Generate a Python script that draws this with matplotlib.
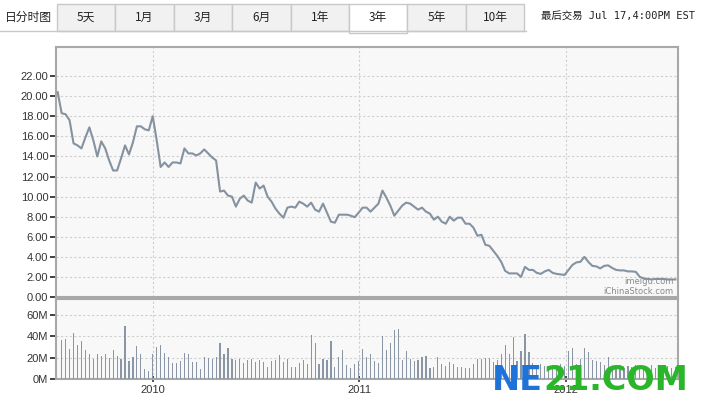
import matplotlib
matplotlib.use("Agg")
import matplotlib.pyplot as plt
import matplotlib.dates as mdates
from matplotlib.patches import Rectangle
import numpy as np
import datetime as dt

# ---------------- data ----------------
price_start = "2009-07-17"
volume_start = "2009-07-24"
prices = [
    20.4, 18.3, 18.2, 17.6, 15.3, 15.1, 14.8, 15.9, 16.9, 15.6,
    14.0, 15.5, 14.8, 13.6, 12.6, 12.6, 13.8, 15.1, 14.2, 15.4,
    17.0, 17.0, 16.7, 16.6, 18.0, 15.6, 12.95, 13.4, 12.95, 13.4,
    13.4, 13.3, 14.8, 14.3, 14.3, 14.1, 14.3, 14.7, 14.3, 13.9,
    13.6, 10.5, 10.6, 10.1, 10.0, 9.0, 9.8, 10.1, 9.6, 9.4,
    11.4, 10.8, 11.1, 10.0, 9.5, 8.8, 8.3, 7.9, 8.9, 9.0,
    8.9, 9.5, 9.3, 9.0, 9.4, 8.7, 8.5, 9.3, 8.4, 7.5,
    7.4, 8.2, 8.2, 8.2, 8.1, 7.95, 8.4, 8.9, 8.9,
    8.5, 8.9, 9.3, 10.6, 9.9, 9.1, 8.1, 8.6, 9.1, 9.4,
    9.3, 9.0, 8.7, 8.9, 8.5, 8.3, 7.7, 8.0, 7.5, 7.3,
    8.0, 7.6, 7.9, 7.9, 7.3, 7.3, 6.9, 6.1, 6.2, 5.2,
    5.1, 4.6, 4.1, 3.5, 2.6, 2.35, 2.35, 2.35,
    2.0, 3.0, 2.7, 2.7, 2.4, 2.3, 2.55, 2.7, 2.4, 2.3,
    2.25, 2.2, 2.7, 3.2, 3.45, 3.5, 4.0, 3.5, 3.1, 3.05,
    2.85, 3.1, 3.15, 2.9, 2.7, 2.65, 2.65, 2.55, 2.55, 2.5,
    2.0, 1.85, 1.8, 1.75, 1.8, 1.8, 1.8, 1.75, 1.75, 1.75,
]
volumes_m = [
    36.9, 37.8, 28.5, 43.4, 31.6, 35.7, 27.0, 23.3, 19.2, 23.9,
    21.4, 23.9, 19.8, 27.6, 21.4, 19.2, 49.3, 16.7, 20.2, 31.0,
    23.3, 9.6, 7.4, 23.3, 30.1, 32.2, 24.5, 20.2, 14.6, 14.6,
    17.1, 24.8, 23.3, 16.4, 16.4, 9.6, 20.2, 19.5, 18.9, 20.2,
    33.8, 23.3, 29.5, 18.3, 17.7, 18.3, 14.6, 17.7, 19.2, 15.5,
    17.7,
    16.1, 11.5, 16.7, 17.7, 22.3, 15.5, 18.6, 11.5, 11.5, 14.6,
    17.7, 13.6, 40.9, 34.1, 13.6, 18.6, 17.7, 35.3, 11.5, 20.5,
    27.0, 12.7, 10.5, 14.3, 16.7, 27.9, 20.5, 23.6, 16.7, 14.6,
    40.0, 27.0, 33.8, 45.6, 46.5, 17.7, 26.0, 19.2, 17.1, 17.4,
    20.5, 21.1, 10.5, 11.5, 20.2, 13.6, 11.8, 15.8, 13.6, 11.5,
    11.5, 10.5,
    10.6, 14.0, 18.7, 18.7, 20.0, 20.0, 16.0, 18.0, 23.0, 31.6,
    23.0, 39.4, 16.9, 26.0, 41.9, 25.0, 15.0, 12.0, 14.0, 12.0,
    11.0, 13.0, 12.0, 14.0, 12.0, 26.0, 28.8, 14.0, 19.0, 28.8,
    25.0, 17.8, 16.9, 15.5, 13.0, 20.3, 12.0, 11.0, 13.0, 10.0,
    12.0, 11.0, 13.0, 10.0, 12.0, 11.0, 13.0, 10.0, 12.0, 11.0,
    12.0, 10.0, 11.0,
]
price_ticks = [0, 2, 4, 6, 8, 10, 12, 14, 16, 18, 20, 22]
volume_ticks = [0, 20, 40, 60]
year_ticks = ["2010", "2011", "2012"]
tab_labels = ["5天", "1月", "3月", "6月", "1年", "3年", "5年", "10年"]
selected_tab = "3年"
left_label = "日分时图"
last_trade = "最后交易 Jul 17,4:00PM EST"

# ---------------- figure ----------------
W, H = 706, 400
fig = plt.figure(figsize=(W / 100, H / 100), dpi=100)
fig.patch.set_facecolor("white")

def fx(x):
    return x / W

def fy(y):
    return 1 - y / H

CJK = ["Noto Sans CJK SC", "DejaVu Sans"]

# tabs
tab_left, tab_w = 57, 58.4
tab_top, tab_bot = 4, 31
fig.add_artist(plt.Line2D([fx(0), fx(526)], [fy(tab_bot), fy(tab_bot)],
                          color="#c8c8c8", lw=1, transform=fig.transFigure))
fig.text(fx(28), fy(17), left_label, ha="center", va="center",
         fontsize=8.5, family=CJK, color="#222222")
for i, lab in enumerate(tab_labels):
    x0 = tab_left + i * tab_w
    sel = lab == selected_tab
    h = (tab_bot - tab_top) + (1.5 if sel else 0)
    r = Rectangle((fx(x0), fy(tab_top + h)), tab_w / W, h / H,
                  transform=fig.transFigure,
                  facecolor="white" if sel else "#f1f1f1",
                  edgecolor="#c8c8c8", lw=1)
    fig.add_artist(r)
    fig.text(fx(x0 + tab_w / 2), fy(17), lab, ha="center", va="center",
             fontsize=8.5, family=CJK, color="#222222")
fig.text(fx(541), fy(16), last_trade, ha="left", va="center",
         fontsize=7.5, family=["DejaVu Sans Mono", "Noto Sans CJK SC"],
         color="#222222")

# axes
L, R = 56, 678
ax = fig.add_axes([fx(L), fy(297), (R - L) / W, (297 - 47) / H])
axv = fig.add_axes([fx(L), fy(379), (R - L) / W, (379 - 299) / H])

xmin = mdates.date2num(dt.datetime(2009, 7, 14))
xmax = mdates.date2num(dt.datetime(2012, 7, 17, 12))

pdates = mdates.date2num(np.datetime64(price_start) + np.arange(len(prices)) * np.timedelta64(7, "D"))
vdates = mdates.date2num(np.datetime64(volume_start) + np.arange(len(volumes_m)) * np.timedelta64(7, "D"))
year_pos = [mdates.date2num(dt.datetime(int(y), 1, 1)) for y in year_ticks]

grid_kw = dict(color="#cfcfcf", lw=0.8, linestyle=(0, (2, 2)), zorder=0)

for a in (ax, axv):
    a.set_facecolor("#f8f8f8")
    for s in a.spines.values():
        s.set_color("#a8a8a8")
        s.set_linewidth(1.5)
    a.set_xlim(xmin, xmax)
    for xp in year_pos:
        a.axvline(xp, **grid_kw)
    a.tick_params(axis="y", direction="out", length=4, width=1.3,
                  color="#333333", labelsize=8, labelcolor="#333333", pad=1.5)

# price panel
ax.plot(pdates, prices, color="#8592a0", lw=1.5, zorder=3)
ax.set_ylim(0, 24.9)
ax.set_yticks(price_ticks)
ax.set_yticklabels([f"{v:.2f}" for v in price_ticks],
                   family="Liberation Sans")
for v in price_ticks[1:]:
    ax.axhline(v, **grid_kw)
ax.set_xticks([])
ax.text(0.993, 0.045, "imeigu.com", transform=ax.transAxes, ha="right",
        va="bottom", fontsize=6, color="#8a8a8a", family="DejaVu Sans")
ax.text(0.993, 0.005, "iChinaStock.com", transform=ax.transAxes, ha="right",
        va="bottom", fontsize=6, color="#8a8a8a", family="DejaVu Sans")

# volume panel
axv.bar(vdates, np.array(volumes_m), width=2.0, color="#8a96a3", zorder=3)
axv.set_ylim(0, 75)
axv.set_yticks(volume_ticks)
axv.set_yticklabels([f"{v}M" for v in volume_ticks], family="Liberation Sans")
for v in volume_ticks[1:]:
    axv.axhline(v, **grid_kw)
axv.set_xticks(year_pos)
axv.set_xticklabels(year_ticks, family="Liberation Sans")
axv.tick_params(axis="x", direction="inout", length=4, width=1.2,
                color="#333333", labelsize=8, labelcolor="#333333", pad=2)

# NE21.COM watermark (drawn over the chart, as in the reference)
t1 = fig.text(fx(492), fy(390), "NE", ha="left", va="baseline",
              fontsize=24, fontweight="bold", color="#1f72d8",
              family="DejaVu Sans", zorder=10)
fig.canvas.draw()
bb = t1.get_window_extent()
fig.text(bb.x1 / W, fy(390), "21.COM", ha="left", va="baseline",
         fontsize=24, fontweight="bold", color="#2bb52b",
         family="DejaVu Sans", zorder=10)

fig.savefig("out.png", dpi=100, facecolor="white")
